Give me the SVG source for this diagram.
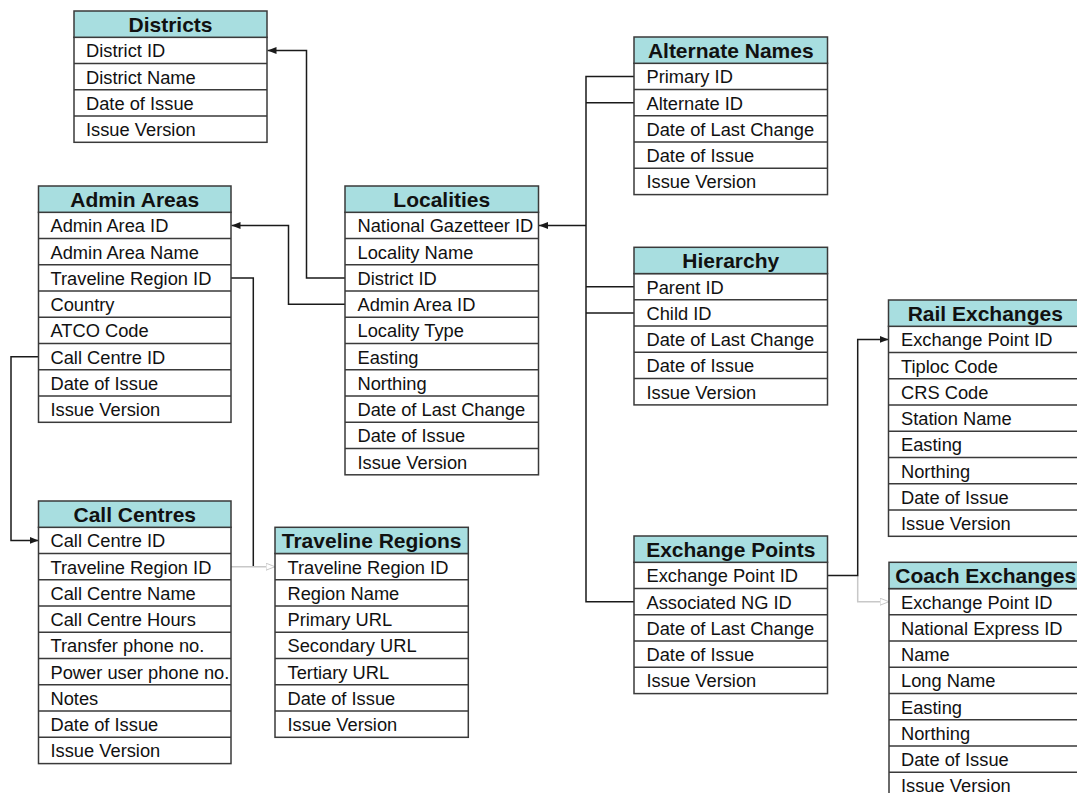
<svg xmlns="http://www.w3.org/2000/svg" width="1077" height="793" viewBox="0 0 1077 793">
<style>
.hd{fill:#A8DEE0;stroke:#3a3a3a;stroke-width:1.5}
.bd{fill:#fff;stroke:#3a3a3a;stroke-width:1.5}
.sep{stroke:#3a3a3a;stroke-width:1.5}
.ht{font-family:"Liberation Sans",Arial,sans-serif;font-weight:bold;font-size:21px;fill:#111;text-anchor:middle}
.rt{font-family:"Liberation Sans",Arial,sans-serif;font-size:18.3px;fill:#111}
.cn{fill:none;stroke:#1a1a1a;stroke-width:1.5}
.cg{fill:none;stroke:#c8c8c8;stroke-width:1.5}
</style>
<defs>
<marker id="ab" markerUnits="userSpaceOnUse" markerWidth="10" markerHeight="8" refX="9" refY="3.5" orient="auto"><path d="M0,0 L9,3.5 L0,7 z" fill="#1a1a1a"/></marker>
<marker id="ag" markerUnits="userSpaceOnUse" markerWidth="11" markerHeight="9" refX="9.5" refY="4" orient="auto"><path d="M0.5,0.5 L9.5,4 L0.5,7.5 z" fill="#fff" stroke="#c8c8c8" stroke-width="1"/></marker>
</defs>

<g id="connectors">
<path class="cn" d="M345,277.9 H306.5 V50.4 H267.5" marker-end="url(#ab)"/>
<path class="cn" d="M345,304.2 H288.5 V225.4 H231.5" marker-end="url(#ab)"/>
<path class="cn" d="M231,277.9 H253.3 V566.7"/>
<path class="cg" d="M231,566.7 H275" marker-end="url(#ag)"/>
<path class="cn" d="M38.5,356.7 H11 V540.4 H38.5" marker-end="url(#ab)"/>
<path class="cn" d="M634,76.4 H586 V601.7 H634"/>
<path class="cn" d="M586,102.7 H634 M586,286.7 H634 M586,313 H634"/>
<path class="cn" d="M586,225.4 H539" marker-end="url(#ab)"/>
<path class="cg" d="M857.7,575.4 V601.7 H889" marker-end="url(#ag)"/>
<path class="cn" d="M827.5,575.4 H857.7 V339.4 H888.5" marker-end="url(#ab)"/>
</g>

<g id="districts">
<rect class="bd" x="74" y="37.3" width="193" height="105"/>
<rect class="hd" x="74" y="11" width="193" height="26.3"/>
<path class="sep" d="M74,63.55 H267 M74,89.8 H267 M74,116.05 H267"/>
<text class="ht" x="170.5" y="31.5">Districts</text>
<text class="rt" x="86" y="57.3">District ID</text>
<text class="rt" x="86" y="83.5">District Name</text>
<text class="rt" x="86" y="109.8">Date of Issue</text>
<text class="rt" x="86" y="136">Issue Version</text>
</g>

<g id="admin-areas">
<rect class="bd" x="38.5" y="212.3" width="192.5" height="210"/>
<rect class="hd" x="38.5" y="186" width="192.5" height="26.3"/>
<path class="sep" d="M38.5,238.55 H231 M38.5,264.8 H231 M38.5,291.05 H231 M38.5,317.3 H231 M38.5,343.55 H231 M38.5,369.8 H231 M38.5,396.05 H231"/>
<text class="ht" x="134.75" y="206.5">Admin Areas</text>
<text class="rt" x="50.5" y="232.3">Admin Area ID</text>
<text class="rt" x="50.5" y="258.5">Admin Area Name</text>
<text class="rt" x="50.5" y="284.8">Traveline Region ID</text>
<text class="rt" x="50.5" y="311">Country</text>
<text class="rt" x="50.5" y="337.3">ATCO Code</text>
<text class="rt" x="50.5" y="363.5">Call Centre ID</text>
<text class="rt" x="50.5" y="389.8">Date of Issue</text>
<text class="rt" x="50.5" y="416">Issue Version</text>
</g>

<g id="localities">
<rect class="bd" x="345" y="212.3" width="193.5" height="262.5"/>
<rect class="hd" x="345" y="186" width="193.5" height="26.3"/>
<path class="sep" d="M345,238.55 H538.5 M345,264.8 H538.5 M345,291.05 H538.5 M345,317.3 H538.5 M345,343.55 H538.5 M345,369.8 H538.5 M345,396.05 H538.5 M345,422.3 H538.5 M345,448.55 H538.5"/>
<text class="ht" x="441.75" y="206.5">Localities</text>
<text class="rt" x="357.5" y="232.3">National Gazetteer ID</text>
<text class="rt" x="357.5" y="258.5">Locality Name</text>
<text class="rt" x="357.5" y="284.8">District ID</text>
<text class="rt" x="357.5" y="311">Admin Area ID</text>
<text class="rt" x="357.5" y="337.3">Locality Type</text>
<text class="rt" x="357.5" y="363.5">Easting</text>
<text class="rt" x="357.5" y="389.8">Northing</text>
<text class="rt" x="357.5" y="416">Date of Last Change</text>
<text class="rt" x="357.5" y="442.3">Date of Issue</text>
<text class="rt" x="357.5" y="468.5">Issue Version</text>
</g>

<g id="call-centres">
<rect class="bd" x="38.5" y="527.3" width="192.5" height="236.3"/>
<rect class="hd" x="38.5" y="501" width="192.5" height="26.3"/>
<path class="sep" d="M38.5,553.55 H231 M38.5,579.8 H231 M38.5,606.05 H231 M38.5,632.3 H231 M38.5,658.55 H231 M38.5,684.8 H231 M38.5,711.05 H231 M38.5,737.3 H231"/>
<text class="ht" x="134.75" y="521.5">Call Centres</text>
<text class="rt" x="50.5" y="547.3">Call Centre ID</text>
<text class="rt" x="50.5" y="573.5">Traveline Region ID</text>
<text class="rt" x="50.5" y="599.8">Call Centre Name</text>
<text class="rt" x="50.5" y="626">Call Centre Hours</text>
<text class="rt" x="50.5" y="652.3">Transfer phone no.</text>
<text class="rt" x="50.5" y="678.5">Power user phone no.</text>
<text class="rt" x="50.5" y="704.8">Notes</text>
<text class="rt" x="50.5" y="731">Date of Issue</text>
<text class="rt" x="50.5" y="757.3">Issue Version</text>
</g>

<g id="traveline-regions">
<rect class="bd" x="275" y="553.5" width="193.3" height="183.8"/>
<rect class="hd" x="275" y="527.3" width="193.3" height="26.2"/>
<path class="sep" d="M275,579.75 H468.3 M275,606 H468.3 M275,632.25 H468.3 M275,658.5 H468.3 M275,684.75 H468.3 M275,711 H468.3"/>
<text class="ht" x="371.65" y="547.8">Traveline Regions</text>
<text class="rt" x="287.5" y="573.5">Traveline Region ID</text>
<text class="rt" x="287.5" y="599.8">Region Name</text>
<text class="rt" x="287.5" y="626">Primary URL</text>
<text class="rt" x="287.5" y="652.3">Secondary URL</text>
<text class="rt" x="287.5" y="678.5">Tertiary URL</text>
<text class="rt" x="287.5" y="704.8">Date of Issue</text>
<text class="rt" x="287.5" y="731">Issue Version</text>
</g>

<g id="alternate-names">
<rect class="bd" x="634" y="63.3" width="193.5" height="131.3"/>
<rect class="hd" x="634" y="37" width="193.5" height="26.3"/>
<path class="sep" d="M634,89.55 H827.5 M634,115.8 H827.5 M634,142.05 H827.5 M634,168.3 H827.5"/>
<text class="ht" x="730.75" y="57.5">Alternate Names</text>
<text class="rt" x="646.5" y="83.3">Primary ID</text>
<text class="rt" x="646.5" y="109.5">Alternate ID</text>
<text class="rt" x="646.5" y="135.8">Date of Last Change</text>
<text class="rt" x="646.5" y="162">Date of Issue</text>
<text class="rt" x="646.5" y="188.3">Issue Version</text>
</g>

<g id="hierarchy">
<rect class="bd" x="634" y="273.6" width="193.5" height="131.3"/>
<rect class="hd" x="634" y="247.3" width="193.5" height="26.3"/>
<path class="sep" d="M634,299.85 H827.5 M634,326.1 H827.5 M634,352.35 H827.5 M634,378.6 H827.5"/>
<text class="ht" x="730.75" y="267.8">Hierarchy</text>
<text class="rt" x="646.5" y="293.6">Parent ID</text>
<text class="rt" x="646.5" y="319.8">Child ID</text>
<text class="rt" x="646.5" y="346.1">Date of Last Change</text>
<text class="rt" x="646.5" y="372.3">Date of Issue</text>
<text class="rt" x="646.5" y="398.6">Issue Version</text>
</g>

<g id="exchange-points">
<rect class="bd" x="634" y="562.3" width="193.5" height="131.3"/>
<rect class="hd" x="634" y="536" width="193.5" height="26.3"/>
<path class="sep" d="M634,588.55 H827.5 M634,614.8 H827.5 M634,641.05 H827.5 M634,667.3 H827.5"/>
<text class="ht" x="730.75" y="556.5">Exchange Points</text>
<text class="rt" x="646.5" y="582.3">Exchange Point ID</text>
<text class="rt" x="646.5" y="608.5">Associated NG ID</text>
<text class="rt" x="646.5" y="634.8">Date of Last Change</text>
<text class="rt" x="646.5" y="661">Date of Issue</text>
<text class="rt" x="646.5" y="687.3">Issue Version</text>
</g>

<g id="rail-exchanges">
<rect class="bd" x="888.5" y="326.3" width="193.5" height="210"/>
<rect class="hd" x="888.5" y="300" width="193.5" height="26.3"/>
<path class="sep" d="M888.5,352.55 H1082 M888.5,378.8 H1082 M888.5,405.05 H1082 M888.5,431.3 H1082 M888.5,457.55 H1082 M888.5,483.8 H1082 M888.5,510.05 H1082"/>
<text class="ht" x="985.25" y="320.5">Rail Exchanges</text>
<text class="rt" x="901" y="346.3">Exchange Point ID</text>
<text class="rt" x="901" y="372.5">Tiploc Code</text>
<text class="rt" x="901" y="398.8">CRS Code</text>
<text class="rt" x="901" y="425">Station Name</text>
<text class="rt" x="901" y="451.3">Easting</text>
<text class="rt" x="901" y="477.5">Northing</text>
<text class="rt" x="901" y="503.8">Date of Issue</text>
<text class="rt" x="901" y="530">Issue Version</text>
</g>

<g id="coach-exchanges">
<rect class="bd" x="889" y="588.6" width="193.5" height="210"/>
<rect class="hd" x="889" y="562.3" width="193.5" height="26.3"/>
<path class="sep" d="M889,614.85 H1082.5 M889,641.1 H1082.5 M889,667.35 H1082.5 M889,693.6 H1082.5 M889,719.85 H1082.5 M889,746.1 H1082.5 M889,772.35 H1082.5"/>
<text class="ht" x="985.75" y="582.8">Coach Exchanges</text>
<text class="rt" x="901" y="608.6">Exchange Point ID</text>
<text class="rt" x="901" y="634.8">National Express ID</text>
<text class="rt" x="901" y="661.1">Name</text>
<text class="rt" x="901" y="687.3">Long Name</text>
<text class="rt" x="901" y="713.6">Easting</text>
<text class="rt" x="901" y="739.8">Northing</text>
<text class="rt" x="901" y="766.1">Date of Issue</text>
<text class="rt" x="901" y="792.3">Issue Version</text>
</g>
</svg>
